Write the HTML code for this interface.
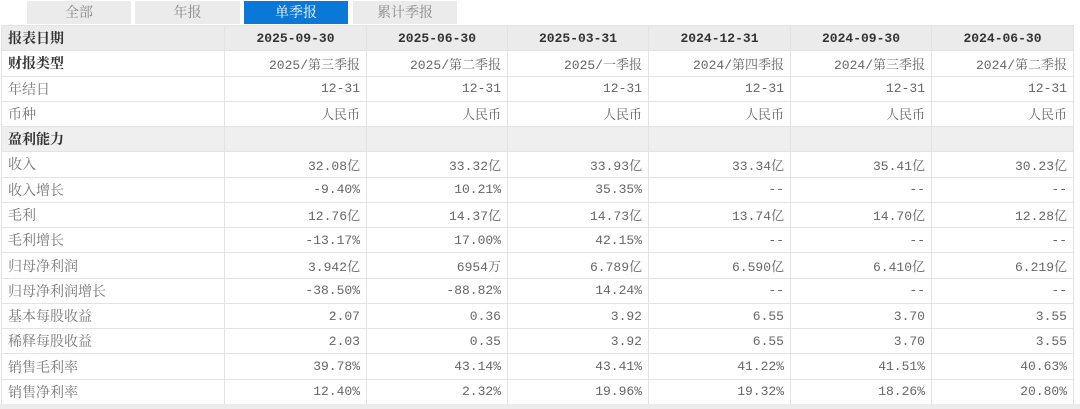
<!DOCTYPE html>
<html><head><meta charset="utf-8"><style>
body{margin:0;width:1080px;height:409px;background:#fff;overflow:hidden;font-family:"Liberation Mono","Noto Serif CJK SC",monospace;font-size:13px;color:#666;}
.tabs{position:absolute;top:0;left:0;height:25px;width:1080px;}
.tab{position:absolute;top:1px;height:23px;line-height:23px;text-align:center;background:#ebebeb;color:#888;font-family:"Noto Serif CJK SC",serif;font-size:14px;}
.tab.on{background:#0a78d6;color:#fff;}
table{position:absolute;top:25px;left:1px;border-collapse:collapse;table-layout:fixed;}
td{height:24.27px;border:1px solid #e3e3e3;padding:0 6px;text-align:right;white-space:nowrap;overflow:hidden;}
td:first-child{text-align:left;font-family:"Noto Serif CJK SC",serif;color:#777;font-size:14px}
tr.h td{background:#ebebeb;color:#333;font-weight:bold;}
tr.h td:not(:first-child){text-align:center;}
tr.b td:first-child{color:#333;font-weight:bold;}
tr.s td{background:#efefef;}
tr.s td:first-child{color:#333;font-weight:bold;}
.foot{position:absolute;top:404px;left:0;width:1080px;height:5px;background:#ececec;}
</style></head><body>
<div class="tabs">
<div class="tab" style="left:27px;width:104px">全部</div>
<div class="tab" style="left:135px;width:105px">年报</div>
<div class="tab on" style="left:244px;width:104px">单季报</div>
<div class="tab" style="left:353px;width:104px">累计季报</div>
</div>
<table>
<colgroup><col style="width:223px"><col style="width:142px"><col style="width:141px"><col style="width:141px"><col style="width:142px"><col style="width:141px"><col style="width:142px"></colgroup>
<tr class="h"><td>报表日期</td><td>2025-09-30</td><td>2025-06-30</td><td>2025-03-31</td><td>2024-12-31</td><td>2024-09-30</td><td>2024-06-30</td></tr>
<tr class="b"><td>财报类型</td><td>2025/第三季报</td><td>2025/第二季报</td><td>2025/一季报</td><td>2024/第四季报</td><td>2024/第三季报</td><td>2024/第二季报</td></tr>
<tr><td>年结日</td><td>12-31</td><td>12-31</td><td>12-31</td><td>12-31</td><td>12-31</td><td>12-31</td></tr>
<tr><td>币种</td><td>人民币</td><td>人民币</td><td>人民币</td><td>人民币</td><td>人民币</td><td>人民币</td></tr>
<tr class="s"><td>盈利能力</td><td></td><td></td><td></td><td></td><td></td><td></td></tr>
<tr><td>收入</td><td>32.08亿</td><td>33.32亿</td><td>33.93亿</td><td>33.34亿</td><td>35.41亿</td><td>30.23亿</td></tr>
<tr><td>收入增长</td><td>-9.40%</td><td>10.21%</td><td>35.35%</td><td>--</td><td>--</td><td>--</td></tr>
<tr><td>毛利</td><td>12.76亿</td><td>14.37亿</td><td>14.73亿</td><td>13.74亿</td><td>14.70亿</td><td>12.28亿</td></tr>
<tr><td>毛利增长</td><td>-13.17%</td><td>17.00%</td><td>42.15%</td><td>--</td><td>--</td><td>--</td></tr>
<tr><td>归母净利润</td><td>3.942亿</td><td>6954万</td><td>6.789亿</td><td>6.590亿</td><td>6.410亿</td><td>6.219亿</td></tr>
<tr><td>归母净利润增长</td><td>-38.50%</td><td>-88.82%</td><td>14.24%</td><td>--</td><td>--</td><td>--</td></tr>
<tr><td>基本每股收益</td><td>2.07</td><td>0.36</td><td>3.92</td><td>6.55</td><td>3.70</td><td>3.55</td></tr>
<tr><td>稀释每股收益</td><td>2.03</td><td>0.35</td><td>3.92</td><td>6.55</td><td>3.70</td><td>3.55</td></tr>
<tr><td>销售毛利率</td><td>39.78%</td><td>43.14%</td><td>43.41%</td><td>41.22%</td><td>41.51%</td><td>40.63%</td></tr>
<tr><td>销售净利率</td><td>12.40%</td><td>2.32%</td><td>19.96%</td><td>19.32%</td><td>18.26%</td><td>20.80%</td></tr>
</table>
<div class="foot"></div>
</body></html>
